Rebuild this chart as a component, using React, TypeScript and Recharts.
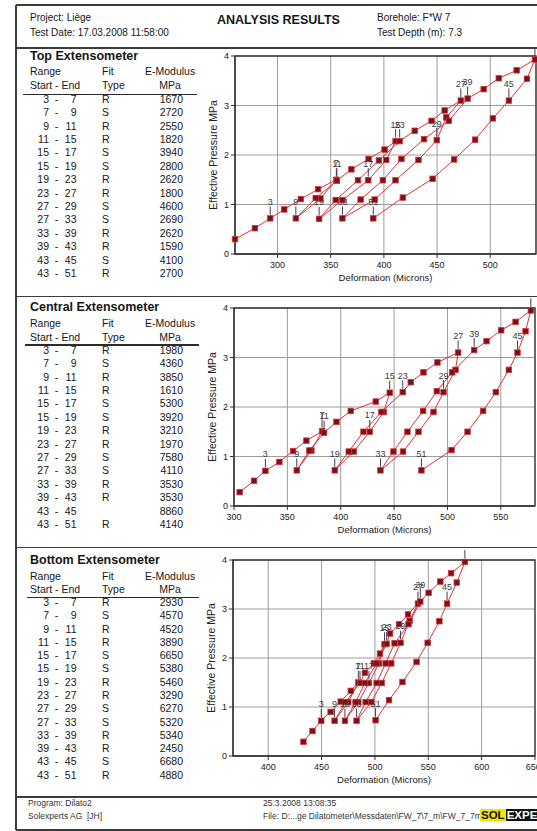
import { ComposedChart, Line, XAxis, YAxis, CartesianGrid, ReferenceArea } from "recharts"

// load steps of the test, point n = index + 1
const topX = [260, 278.7, 293.1, 306.3, 321.9, 338.1, 355.3, 340.3, 317.2, 335.9, 355.8, 369.4, 385.6, 400.6, 411, 402.2, 385.3, 361, 339.1, 354.7, 375.6, 395.3, 414.8, 429, 444.8, 457.1, 472.3, 458.7, 449.7, 432.5, 410.9, 391.3, 361, 378.1, 399, 416.5, 437.7, 461, 478.7, 493.8, 508, 524.8, 542, 534.5, 517.5, 502.5, 485.8, 466, 445.8, 417.8, 390]
const topY = [0.3, 0.52, 0.72, 0.9, 1.11, 1.31, 1.5, 1.12, 0.72, 1.13, 1.48, 1.71, 1.92, 2.11, 2.28, 1.9, 1.49, 1.09, 0.71, 1.09, 1.49, 1.89, 2.28, 2.49, 2.69, 2.9, 3.1, 2.76, 2.3, 1.9, 1.49, 1.1, 0.72, 1.1, 1.49, 1.92, 2.32, 2.69, 3.14, 3.33, 3.55, 3.71, 3.93, 3.54, 3.1, 2.74, 2.31, 1.91, 1.52, 1.14, 0.72]

const centralX = [305.3, 318.8, 329.4, 342.5, 355.3, 367.8, 382.5, 372.5, 358.8, 370.6, 384.4, 396, 409.4, 432.8, 445.9, 440.3, 427.2, 412.2, 394.4, 407.5, 421.3, 438.1, 458.1, 465.6, 477.5, 490.6, 510, 507.5, 496.3, 486.9, 472.8, 458.4, 437.2, 449.4, 462.5, 477.2, 490, 504.4, 525, 536.6, 550.3, 563.8, 578.1, 573.1, 565.6, 557.5, 545.3, 533.4, 518.8, 503.8, 475.6]
const centralY = [0.28, 0.51, 0.71, 0.89, 1.11, 1.32, 1.51, 1.12, 0.72, 1.12, 1.48, 1.7, 1.92, 2.11, 2.29, 1.9, 1.5, 1.1, 0.72, 1.1, 1.5, 1.9, 2.3, 2.5, 2.7, 2.9, 3.1, 2.75, 2.3, 1.9, 1.5, 1.1, 0.72, 1.1, 1.5, 1.92, 2.32, 2.7, 3.15, 3.33, 3.55, 3.72, 3.95, 3.53, 3.1, 2.75, 2.3, 1.92, 1.5, 1.13, 0.72]

const bottomX = [433, 441.5, 449.7, 458.5, 467.9, 477.4, 484.4, 475, 462.2, 472.5, 486, 490.6, 499, 504.7, 509, 503.8, 494.4, 484.4, 471.9, 481.9, 490.6, 501.6, 511, 514.2, 522.6, 531, 540.3, 532.5, 524, 515.3, 506.3, 496.6, 482.8, 491.3, 501.6, 510, 518.4, 531.5, 542.5, 550.3, 561.3, 571.4, 584.3, 576.7, 567.6, 560.4, 549.4, 539, 525.8, 513.2, 500.6]
const bottomY = [0.29, 0.51, 0.72, 0.9, 1.11, 1.33, 1.5, 1.1, 0.72, 1.1, 1.49, 1.7, 1.89, 2.09, 2.28, 1.89, 1.49, 1.1, 0.72, 1.1, 1.49, 1.89, 2.29, 2.5, 2.69, 2.89, 3.11, 2.76, 2.31, 1.89, 1.49, 1.1, 0.72, 1.1, 1.49, 1.89, 2.3, 2.69, 3.15, 3.33, 3.56, 3.73, 3.96, 3.54, 3.11, 2.75, 2.31, 1.92, 1.51, 1.14, 0.73]

const labelledPoints = [3, 7, 9, 11, 15, 17, 19, 23, 27, 29, 33, 39, 45, 51]
const tickOnlyPoints = [43]

const yTicks = [0, 1, 2, 3, 4]
const topTicks = [300, 350, 400, 450, 500]
const centralTicks = [300, 350, 400, 450, 500, 550]
const bottomTicks = [400, 450, 500, 550, 600, 650]

// table
const rangeStart = [3, 7, 9, 11, 15, 15, 19, 23, 27, 27, 33, 39, 43, 43]
const rangeEnd = [7, 9, 11, 15, 17, 19, 23, 27, 29, 33, 39, 43, 45, 51]
const topFit = ["R", "S", "R", "R", "S", "S", "R", "R", "S", "S", "R", "R", "S", "R"]
const topModulus = [1670, 2720, 2550, 1820, 3940, 2800, 2620, 1800, 4600, 2690, 2620, 1590, 4100, 2700]
const centralFit = ["R", "S", "R", "R", "S", "S", "R", "R", "S", "S", "R", "R", "", "R"]
const centralModulus = [1980, 4360, 3850, 1610, 5300, 3920, 3210, 1970, 7580, 4110, 3530, 3530, 8860, 4140]
const bottomFit = ["R", "S", "R", "R", "S", "S", "R", "R", "S", "S", "R", "R", "S", "R"]
const bottomModulus = [2930, 4570, 4520, 3890, 6650, 5380, 5460, 3290, 6270, 5320, 5340, 2450, 6680, 4880]

const FONT = "Arial, 'Liberation Sans', sans-serif"

function Txt({ x, y, size = 10.5, bold = false, align = "left", color = "#161616", children }: any) {
  const lh = size * 1.2
  const style: any = {
    position: "absolute",
    top: y - lh / 2,
    lineHeight: `${lh}px`,
    fontSize: size,
    fontWeight: bold ? 700 : 400,
    whiteSpace: "nowrap",
    color,
  }
  if (align === "left") style.left = x
  else if (align === "right") Object.assign(style, { left: x - 300, width: 300, textAlign: "right" })
  else Object.assign(style, { left: x - 150, width: 300, textAlign: "center" })
  return <div style={style}>{children}</div>
}

function HLine({ y, x1, x2, w = 1.5, color = "#3c3c3c" }: any) {
  return <div style={{ position: "absolute", left: x1, top: y - w / 2, width: x2 - x1, height: w, background: color }} />
}

const renderDot = (props: any) => {
  const { cx, cy, index, payload } = props
  if (cx == null || cy == null) return <g key={`d-${index}`} />
  const n = payload.n
  const hasLabel = labelledPoints.includes(n)
  const hasTick = hasLabel || tickOnlyPoints.includes(n)
  return (
    <g key={`d-${index}`}>
      {hasTick && <line x1={cx} x2={cx} y1={cy - 3.5} y2={cy - 12} stroke="#4b3c50" strokeWidth={1} />}
      {hasLabel && (
        <text x={cx} y={cy - 13.5} textAnchor="middle" fontSize={9} fill="#3a3a3a" fontFamily={FONT}>
          {n}
        </text>
      )}
      <rect x={cx - 2.75} y={cy - 2.75} width={5.5} height={5.5} fill="#7d1016" stroke="#d0353b" strokeWidth={0.8} />
    </g>
  )
}

function ExtChart({ plotLeft, plotTop, plotBottom, plotW, xMin, xMax, xTicks, xs, ys }: any) {
  const data = xs.map((x: number, i: number) => ({ x, y: ys[i], n: i + 1 }))
  const yAxisW = 22
  const mLeft = 13
  const mTop = 11
  const mRight = 5
  const xAxisH = 30
  const mBottom = 4
  const width = mLeft + yAxisW + plotW + mRight
  const height = mTop + (plotBottom - plotTop) + xAxisH + mBottom
  return (
    <div style={{ position: "absolute", left: plotLeft - yAxisW - mLeft, top: plotTop - mTop }}>
      <ComposedChart width={width} height={height} data={data} margin={{ top: mTop, right: mRight, left: mLeft, bottom: mBottom }}>
        <CartesianGrid stroke="#9c9c9c" strokeWidth={1} />
        <XAxis
          type="number"
          dataKey="x"
          domain={[xMin, xMax]}
          ticks={xTicks}
          height={xAxisH}
          tickSize={4}
          tickMargin={4}
          stroke="#333"
          tick={{ fontSize: 9, fill: "#222", fontFamily: FONT }}
          label={{ value: "Deformation (Microns)", position: "insideBottom", offset: 3, fontSize: 9.5, fill: "#222", fontFamily: FONT }}
        />
        <YAxis
          type="number"
          domain={[0, 4]}
          ticks={yTicks}
          width={yAxisW}
          tickSize={4}
          tickMargin={2}
          stroke="#333"
          tick={{ fontSize: 9, fill: "#222", fontFamily: FONT }}
          label={{ value: "Effective Pressure MPa", angle: -90, position: "insideLeft", offset: 0, fontSize: 10.5, fill: "#222", fontFamily: FONT, style: { textAnchor: "middle" } }}
        />
        <ReferenceArea x1={xMin} x2={xMax} y1={0} y2={4} fill="none" stroke="#333" strokeWidth={1.3} />
        <Line type="linear" dataKey="y" stroke="#d9343c" strokeWidth={1} dot={renderDot} activeDot={false} isAnimationActive={false} />
      </ComposedChart>
    </div>
  )
}

function ModTable({ title, fits, moduli, titleY, rangeY, startY, lineY, lineX1, lineX2, rowY, rowStep }: any) {
  return (
    <>
      <Txt x={30} y={titleY} size={12.5} bold>{title}</Txt>
      <Txt x={30} y={rangeY}>Range</Txt>
      <Txt x={102} y={rangeY}>Fit</Txt>
      <Txt x={145} y={rangeY}>E-Modulus</Txt>
      <Txt x={30} y={startY}>Start - End</Txt>
      <Txt x={102} y={startY}>Type</Txt>
      <Txt x={170} y={startY} align="center">MPa</Txt>
      <HLine y={lineY} x1={lineX1} x2={lineX2} w={1.4} color="#2a2a2a" />
      {rangeStart.map((s, i) => {
        const y = rowY + i * rowStep
        return (
          <div key={i}>
            <Txt x={49} y={y} align="right">{s}</Txt>
            <Txt x={56.5} y={y} align="center">-</Txt>
            <Txt x={76.5} y={y} align="right">{rangeEnd[i]}</Txt>
            <Txt x={102} y={y}>{fits[i]}</Txt>
            <Txt x={183} y={y} align="right">{moduli[i]}</Txt>
          </div>
        )
      })}
    </>
  )
}

export default function App() {
  return (
    <div style={{ position: "absolute", left: 0, top: 0, width: 537, height: 831, overflow: "hidden", background: "#fff", fontFamily: FONT }}>
      {/* frame */}
      <HLine y={5} x1={16} x2={537} />
      <div style={{ position: "absolute", left: 15.25, top: 5, width: 1.5, height: 825, background: "#3c3c3c" }} />
      <HLine y={48} x1={16} x2={537} />
      <HLine y={296.5} x1={16} x2={537} />
      <HLine y={547.5} x1={16} x2={537} />
      <HLine y={797} x1={16} x2={537} />
      <HLine y={830} x1={16} x2={537} />

      {/* header */}
      <Txt x={30} y={18} size={10}>Project: Liège</Txt>
      <Txt x={30} y={33} size={10}>Test Date: 17.03.2008 11:58:00</Txt>
      <Txt x={217} y={20} size={12.5} bold>ANALYSIS RESULTS</Txt>
      <Txt x={377} y={18} size={10}>Borehole: F*W 7</Txt>
      <Txt x={377} y={33} size={10}>Test Depth (m): 7.3</Txt>

      <ModTable title="Top Extensometer" fits={topFit} moduli={topModulus} titleY={56.7} rangeY={71} startY={85} lineY={94.3} lineX1={23} lineX2={197} rowY={99} rowStep={13.4} />
      <ExtChart plotLeft={235} plotTop={56} plotBottom={254} plotW={301} xMin={260} xMax={543} xTicks={topTicks} xs={topX} ys={topY} />

      <ModTable title="Central Extensometer" fits={centralFit} moduli={centralModulus} titleY={307.7} rangeY={323.3} startY={337.3} lineY={345} lineX1={25} lineX2={199} rowY={350} rowStep={13.4} />
      <ExtChart plotLeft={234} plotTop={308} plotBottom={506} plotW={301} xMin={300} xMax={582} xTicks={centralTicks} xs={centralX} ys={centralY} />

      <ModTable title="Bottom Extensometer" fits={bottomFit} moduli={bottomModulus} titleY={560} rangeY={576.7} startY={589} lineY={597.3} lineX1={27} lineX2={199} rowY={602.3} rowStep={13.28} />
      <ExtChart plotLeft={233} plotTop={560} plotBottom={756} plotW={302} xMin={367} xMax={650} xTicks={bottomTicks} xs={bottomX} ys={bottomY} />

      {/* footer */}
      <Txt x={28} y={803.5} size={8.5} color="#333">Program: Dilato2</Txt>
      <Txt x={28} y={816} size={8.5} color="#333">Solexperts AG</Txt>
      <Txt x={87} y={816} size={8.5} color="#333">[JH]</Txt>
      <Txt x={263} y={803.5} size={8.5} color="#333">25.3.2008  13:08:35</Txt>
      <Txt x={263} y={816} size={8.5} color="#333">File:  D:...ge Dilatometer\Messdaten\FW_7\7_m\FW_7_7m D2I</Txt>
      <div style={{ position: "absolute", left: 480, top: 809, height: 13, lineHeight: "13px", fontSize: 11.5, fontWeight: 700, whiteSpace: "nowrap" }}>
        <span style={{ background: "#f2e600", color: "#111", padding: "0 1px" }}>SOL</span>
        <span style={{ background: "#111", color: "#fff", padding: "0 1px" }}>EXPERTS</span>
      </div>
    </div>
  )
}
